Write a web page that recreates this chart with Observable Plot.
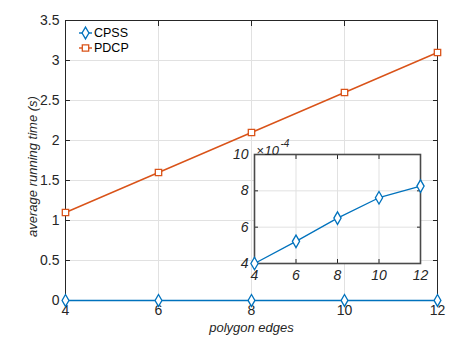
<!DOCTYPE html>
<html><head><meta charset="utf-8">
<script src="https://cdn.jsdelivr.net/npm/d3@7"></script>
<script src="https://cdn.jsdelivr.net/npm/@observablehq/plot@0.6"></script>
<style>
body{margin:0;background:#fff;}
#wrap{position:relative;width:467px;height:341px;font-family:"Liberation Sans",Arial,sans-serif;}
#wrap > *{position:absolute;}
</style>
</head><body><div id="wrap"></div>
<script>
const edges = [4, 6, 8, 10, 12];
const cpss = [0.000400, 0.000522, 0.000650, 0.000762, 0.000826];
const pdcp = [1.1, 1.6, 2.1, 2.6, 3.1];
const xTicks = [4, 6, 8, 10, 12];
const yTicks = [0, 0.5, 1, 1.5, 2, 2.5, 3, 3.5];
const insetYTicks = [4, 6, 8, 10];
const seriesNames = ["CPSS", "PDCP"];
const colors = ["#0072BD", "#D95319"];
const symbols = ["diamond", "square"];
const xLabel = "polygon edges";
const yLabel = "average running time (s)";
const insetExp = ["\u00d7", "10", "-4"];

const data = edges.flatMap((e, i) => [
  {edges: e, series: "CPSS", value: cpss[i]},
  {edges: e, series: "PDCP", value: pdcp[i]}
]);
const insetData = edges.map((e, i) => ({edges: e, value: cpss[i] * 1e4}));

const axisColor = "#262626";
const gridColor = "#e1e1e1";
const font = '"Liberation Sans", Arial, sans-serif';
const wrap = document.getElementById("wrap");

const main = Plot.plot({
  width: 467, height: 341,
  marginLeft: 65, marginRight: 30, marginTop: 20, marginBottom: 41,
  style: {fontFamily: font, fontSize: "14px", color: axisColor, background: "transparent", overflow: "visible"},
  x: {domain: [4, 12]},
  y: {domain: [0, 3.5]},
  color: {domain: seriesNames, range: colors},
  symbol: {domain: seriesNames, range: symbols},
  marks: [
    Plot.gridX(xTicks, {stroke: gridColor, strokeOpacity: 1}),
    Plot.gridY(yTicks, {stroke: gridColor, strokeOpacity: 1}),
    Plot.axisX(xTicks, {tickSize: 0, tickPadding: 5, label: null, fontSize: 14}),
    Plot.axisY(yTicks, {tickSize: 0, tickPadding: 6, label: null, fontSize: 14, tickFormat: d => String(d)}),
    Plot.axisX(xTicks, {anchor: "bottom", tickSize: -5, tickFormat: () => "", label: null}),
    Plot.axisX(xTicks, {anchor: "top", tickSize: -5, tickFormat: () => "", label: null}),
    Plot.axisY(yTicks, {anchor: "left", tickSize: -5, tickFormat: () => "", label: null}),
    Plot.axisY(yTicks, {anchor: "right", tickSize: -5, tickFormat: () => "", label: null}),
    Plot.frame({stroke: axisColor, strokeWidth: 1}),
    Plot.line(data, {x: "edges", y: "value", z: "series", stroke: "series", strokeWidth: 1.4}),
    Plot.dot(data, {x: "edges", y: "value", symbol: "series", stroke: "series", fill: "white", r: 3.6, strokeWidth: 1.3}),
    Plot.text([xLabel], {frameAnchor: "bottom", textAnchor: "middle", lineAnchor: "middle", dy: 27, fontStyle: "italic", fontSize: 13, fill: axisColor}),
    Plot.text([yLabel], {frameAnchor: "left", textAnchor: "middle", lineAnchor: "middle", rotate: -90, dx: -33, dy: 6, fontStyle: "italic", fontSize: 13, fill: axisColor})
  ]
});
main.style.left = "0px"; main.style.top = "0px";
wrap.appendChild(main);

// legend
const leg = d3.create("svg").attr("width", 70).attr("height", 34)
  .style("left", "76px").style("top", "25px");
seriesNames.forEach((s, i) => {
  const g = leg.append("g").attr("transform", `translate(0,${8 + i * 15})`);
  g.append("line").attr("x1", 3).attr("x2", 16).attr("y1", 0).attr("y2", 0)
    .attr("stroke", colors[i]).attr("stroke-width", 1.4);
  const sym = symbols[i] === "diamond" ? d3.symbolDiamond : d3.symbolSquare;
  g.append("path").attr("d", d3.symbol(sym, 3.6 * 3.6 * Math.PI)()).attr("transform", "translate(9.5,0)")
    .attr("fill", "white").attr("stroke", colors[i]).attr("stroke-width", 1.3);
  g.append("text").attr("x", 18).attr("y", 0).attr("dy", "0.35em").attr("font-size", 12.5)
    .attr("font-family", font).attr("fill", "#000").text(s);
});
wrap.appendChild(leg.node());

// inset
const inset = Plot.plot({
  width: 210, height: 150,
  marginLeft: 34, marginTop: 19, marginRight: 10, marginBottom: 22,
  style: {fontFamily: font, fontSize: "14px", color: axisColor, background: "transparent", overflow: "visible"},
  x: {domain: [4, 12]},
  y: {domain: [4, 10]},
  marks: [
    Plot.frame({fill: "white", stroke: null}),
    Plot.gridX(xTicks, {stroke: gridColor, strokeOpacity: 1}),
    Plot.gridY(insetYTicks, {stroke: gridColor, strokeOpacity: 1}),
    Plot.axisX(xTicks, {tickSize: 0, tickPadding: 7, label: null, fontSize: 14, fontStyle: "italic"}),
    Plot.axisY(insetYTicks, {tickSize: 0, tickPadding: 6, label: null, fontSize: 14, fontStyle: "italic"}),
    Plot.axisX(xTicks, {anchor: "bottom", tickSize: -4, tickFormat: () => "", label: null}),
    Plot.axisX(xTicks, {anchor: "top", tickSize: -4, tickFormat: () => "", label: null}),
    Plot.axisY(insetYTicks, {anchor: "left", tickSize: -4, tickFormat: () => "", label: null}),
    Plot.axisY(insetYTicks, {anchor: "right", tickSize: -4, tickFormat: () => "", label: null}),
    Plot.frame({stroke: "#4a4a4a", strokeWidth: 1.6}),
    Plot.line(insetData, {x: "edges", y: "value", stroke: colors[0], strokeWidth: 1.3}),
    Plot.dot(insetData, {x: "edges", y: "value", symbol: "diamond", stroke: colors[0], fill: "white", r: 3.8, strokeWidth: 1.3}),
    Plot.text([insetExp[0]], {frameAnchor: "top-left", dx: 2, dy: -9, textAnchor: "start", fontSize: 13, fill: axisColor}),
    Plot.text([insetExp[1]], {frameAnchor: "top-left", dx: 10, dy: -9, textAnchor: "start", fontStyle: "italic", fontSize: 13, fill: axisColor}),
    Plot.text([insetExp[2]], {frameAnchor: "top-left", dx: 26, dy: -15, textAnchor: "start", fontStyle: "italic", fontSize: 10, fill: axisColor})
  ]
});
inset.style.left = "220px"; inset.style.top = "135px";
wrap.appendChild(inset);
</script>
</body></html>
